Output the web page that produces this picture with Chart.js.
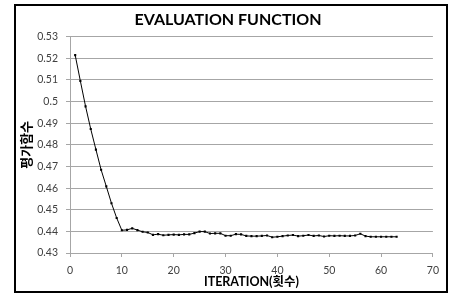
<!DOCTYPE html>
<html>
<head>
<meta charset="utf-8">
<script src="https://cdn.jsdelivr.net/npm/chart.js@4"></script>
<style>
  html, body { margin: 0; padding: 0; background: #fff; }
  #frame {
    position: absolute; left: 14px; top: 4px;
    width: 434px; height: 289px;
    border: 2px solid #000; box-sizing: border-box;
  }
  #wrap { position: relative; width: 430px; height: 285px; }
</style>
</head>
<body>
<div id="frame"><div id="wrap"><canvas id="evalChart"></canvas></div></div>
<script>
// iteration numbers and evaluation function values
const iterations = Array.from({ length: 63 }, (_, i) => i + 1);
const evalValues = [
  0.5215, 0.5095, 0.4978, 0.4873, 0.4778, 0.4685, 0.4608, 0.4530, 0.4462, 0.4405,
  0.4407, 0.4414, 0.4406, 0.4398, 0.4395, 0.4384, 0.4387, 0.4382, 0.4384, 0.4385,
  0.4384, 0.4386, 0.4386, 0.4392, 0.4399, 0.4399, 0.4390, 0.4391, 0.4391, 0.4380,
  0.4380, 0.4387, 0.4386, 0.4379, 0.4378, 0.4378, 0.4379, 0.4381, 0.4373, 0.4375,
  0.4378, 0.4381, 0.4383, 0.4378, 0.4380, 0.4383, 0.4379, 0.4381, 0.4376, 0.4380,
  0.4379, 0.4380, 0.4379, 0.4379, 0.4381, 0.4389, 0.4378, 0.4375, 0.4375, 0.4375,
  0.4375, 0.4375, 0.4375
];

// axis ticks
const yTickValues = [0.43, 0.44, 0.45, 0.46, 0.47, 0.48, 0.49, 0.5, 0.51, 0.52, 0.53];
const xTickValues = [0, 10, 20, 30, 40, 50, 60, 70];

const gridGrey = '#a6a6a6';
const tickFont = { family: 'Lato, "Noto Sans CJK KR", sans-serif', size: 10.5 };

const chartData = {
  datasets: [{
    data: iterations.map((x, i) => ({ x: x, y: evalValues[i] })),
    borderColor: '#000',
    borderWidth: 1,
    backgroundColor: '#000',
    pointRadius: 1.5,
    pointBorderWidth: 0,
    pointStyle: 'rect',
    tension: 0
  }]
};

const chartConfig = {
  type: 'line',
  data: chartData,
  options: {
    responsive: true,
    maintainAspectRatio: false,
    animation: false,
    layout: { padding: { left: 0, right: 6, top: 0, bottom: 0 } },
    plugins: {
      legend: { display: false },
      tooltip: { enabled: false },
      title: {
        display: true,
        text: 'EVALUATION FUNCTION',
        color: '#000',
        font: { family: 'Lato, sans-serif', size: 16, weight: 'bold' },
        padding: { top: 4, bottom: 7.5 }
      }
    },
    scales: {
      x: {
        type: 'linear',
        min: 0,
        max: 70,
        afterBuildTicks: s => { s.ticks = xTickValues.map(v => ({ value: v })); },
        afterFit: s => { s.height = 38; },
        grid: { drawOnChartArea: false, color: gridGrey, tickLength: 4 },
        border: { color: gridGrey },
        ticks: { color: '#404040', font: tickFont, padding: 7, maxRotation: 0 },
        title: {
          display: true,
          text: 'ITERATION(횟수)',
          color: '#000',
          font: { family: 'Lato, "Noto Sans CJK KR", sans-serif', size: 12.5, weight: 'bold' },
          padding: { top: 0, bottom: 2 }
        }
      },
      y: {
        min: 0.43,
        max: 0.53,
        afterBuildTicks: s => { s.ticks = yTickValues.map(v => ({ value: v })); },
        afterFit: s => { s.width = 54; },
        grid: { color: gridGrey, tickLength: 4 },
        border: { color: gridGrey },
        ticks: {
          color: '#404040',
          font: tickFont,
          padding: 8,
          callback: v => String(+v.toFixed(2))
        },
        title: {
          display: true,
          text: '평가함수',
          color: '#000',
          font: { family: '"Noto Sans CJK KR", sans-serif', size: 13, weight: 'bold' },
          padding: { top: 2.5, bottom: 0 }
        }
      }
    }
  }
};

const evalChart = new Chart(document.getElementById('evalChart'), chartConfig);
</script>
</body>
</html>
